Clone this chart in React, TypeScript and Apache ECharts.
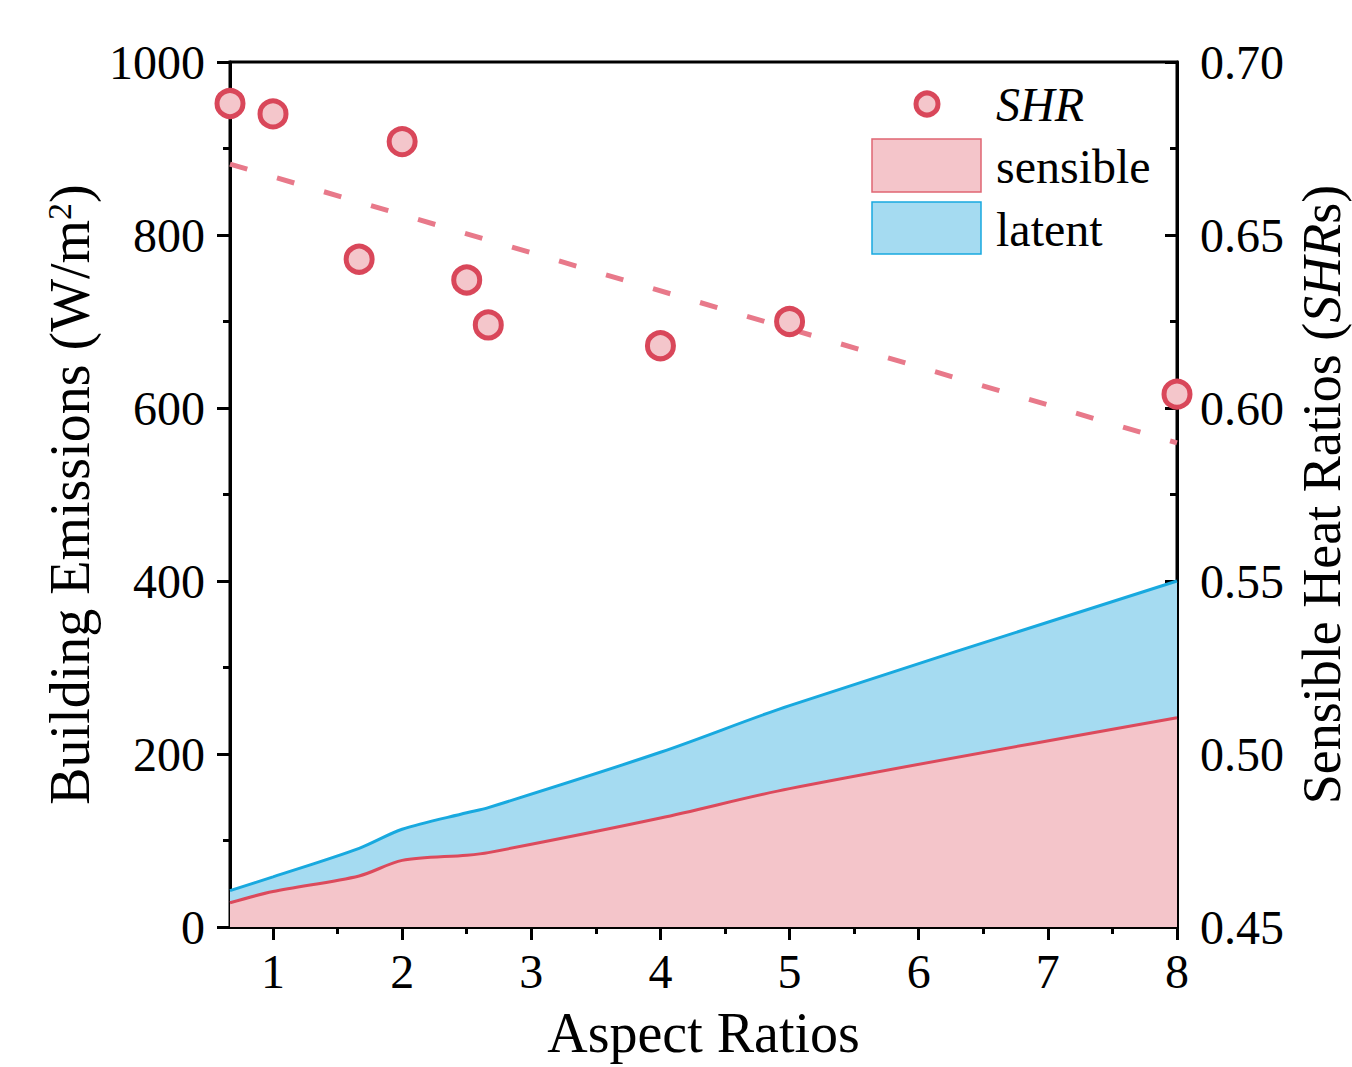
import React, { useEffect, useRef } from "react";
import * as echarts from "echarts";

// ---- data ----
const aspectRatios = [0.667, 1, 1.667, 2, 2.5, 2.667, 4, 5, 8];
const sensible = [28, 41, 59, 77, 83, 86, 126, 160, 242];
const latent = [14, 17, 32, 36, 49, 52, 76, 96, 158];
const shr = [0.688, 0.685, 0.643, 0.677, 0.637, 0.624, 0.618, 0.625, 0.604];
const fitX = [0.667, 8];
const fitShr = [0.6705, 0.5899];
const xMajorTicks = [1, 2, 3, 4, 5, 6, 7, 8];
const xMinorTicks = [1.5, 2.5, 3.5, 4.5, 5.5, 6.5, 7.5];
const rightMinorTicks = [0.475, 0.525, 0.575, 0.625, 0.675];

const FONT = "Liberation Serif";
const RED_LINE = "#dc4a5c";
const RED_FILL = "#f4c5ca";
const BLUE_LINE = "#18a9df";
const BLUE_FILL = "#a5dbf1";

export default function App() {
  const ref = useRef<HTMLDivElement>(null);

  useEffect(() => {
    if (!ref.current) return;
    const chart = echarts.init(ref.current, null, { renderer: "svg" });
    const pair = (xs: number[], ys: number[]) => xs.map((x, i) => [x, ys[i]]);
    const total = sensible.map((s, i) => s + latent[i]);
    const axisLine = { show: true, lineStyle: { color: "#000", width: 3 } };
    const labelStyle = { fontFamily: FONT, fontSize: 48, color: "#000" };
    const tickLine = { color: "#000", width: 3 };

    chart.setOption({
      animation: false,
      backgroundColor: "#fff",
      grid: {
        left: 230,
        right: 175,
        top: 62,
        bottom: 140,
        outerBoundsMode: "none",
        containLabel: false,
        show: true,
        borderColor: "#000",
        borderWidth: 3,
        backgroundColor: "transparent",
      },
      xAxis: [
        {
          type: "value",
          min: 0.667,
          max: 8,
          position: "bottom",
          name: "Aspect Ratios",
          nameLocation: "middle",
          nameGap: 78,
          nameTextStyle: { fontFamily: FONT, fontSize: 56, color: "#000" },
          axisLine,
          axisTick: { show: true, customValues: xMajorTicks, length: 13, lineStyle: tickLine },
          axisLabel: { ...labelStyle, customValues: xMajorTicks, margin: 20, formatter: (v: number) => String(v) },
          splitLine: { show: false },
        },
        {
          type: "value",
          min: 0.667,
          max: 8,
          position: "bottom",
          axisLine: { show: false },
          axisTick: { show: true, customValues: xMinorTicks, length: 7, lineStyle: tickLine },
          axisLabel: { show: false },
          splitLine: { show: false },
        },
      ],
      yAxis: [
        {
          type: "value",
          min: 0,
          max: 1000,
          interval: 200,
          position: "left",
          name: "Building Emissions (W/m{sup|2})",
          nameLocation: "middle",
          nameRotate: 90,
          nameGap: 122,
          nameTextStyle: {
            fontFamily: FONT,
            fontSize: 56,
            color: "#000",
            rich: {
              sup: { fontFamily: FONT, fontSize: 34, color: "#000", verticalAlign: "top", lineHeight: 30 },
            },
          },
          axisLine,
          axisTick: { show: true, length: 13, lineStyle: tickLine },
          minorTick: { show: true, splitNumber: 2, length: 7, lineStyle: tickLine },
          axisLabel: { ...labelStyle, margin: 25, formatter: (v: number) => String(v) },
          splitLine: { show: false },
          minorSplitLine: { show: false },
        },
        {
          type: "value",
          min: 0.45,
          max: 0.7,
          interval: 0.05,
          position: "right",
          name: "Sensible Heat Ratios ({i|SHR}s)",
          nameLocation: "middle",
          nameRotate: 90,
          nameGap: 104,
          nameTextStyle: {
            fontFamily: FONT,
            fontSize: 54,
            color: "#000",
            rich: {
              i: { fontFamily: FONT, fontSize: 54, fontStyle: "italic", color: "#000" },
            },
          },
          axisLine,
          axisTick: { show: true, inside: true, length: 12, lineStyle: tickLine },
          axisLabel: { ...labelStyle, margin: 23, formatter: (v: number) => v.toFixed(2) },
          splitLine: { show: false },
        },
        {
          type: "value",
          min: 0.45,
          max: 0.7,
          position: "right",
          axisLine: { show: false },
          axisTick: { show: true, inside: true, customValues: rightMinorTicks, length: 7, lineStyle: tickLine },
          axisLabel: { show: false },
          splitLine: { show: false },
        },
      ],
      series: [
        {
          name: "latent",
          type: "line",
          xAxisIndex: 0,
          yAxisIndex: 0,
          smooth: 0.3,
          showSymbol: false,
          data: pair(aspectRatios, total),
          lineStyle: { color: BLUE_LINE, width: 3 },
          areaStyle: { color: BLUE_FILL, opacity: 1 },
          z: 1,
        },
        {
          name: "sensible",
          type: "line",
          xAxisIndex: 0,
          yAxisIndex: 0,
          smooth: 0.3,
          showSymbol: false,
          data: pair(aspectRatios, sensible),
          lineStyle: { color: RED_LINE, width: 3 },
          areaStyle: { color: RED_FILL, opacity: 1 },
          z: 2,
        },
        {
          name: "fit",
          type: "line",
          xAxisIndex: 0,
          yAxisIndex: 1,
          showSymbol: false,
          data: pair(fitX, fitShr),
          lineStyle: { color: "#e8798a", width: 5, type: [18, 31] },
          z: 3,
        },
        {
          name: "SHR",
          type: "scatter",
          xAxisIndex: 0,
          yAxisIndex: 1,
          symbol: "circle",
          symbolSize: 26,
          clip: false,
          data: pair(aspectRatios, shr),
          itemStyle: { color: "#f4c6cb", borderColor: "#d9475a", borderWidth: 5, opacity: 1 },
          z: 4,
        },
      ],
      graphic: [
        {
          type: "circle",
          shape: { cx: 927, cy: 104, r: 11 },
          style: { fill: "#f4c6cb", stroke: "#d9475a", lineWidth: 5 },
          z: 10,
        },
        {
          type: "text",
          x: 996,
          y: 104,
          style: { text: "SHR", font: `italic 48px "${FONT}"`, fill: "#000", verticalAlign: "middle" },
          z: 10,
        },
        {
          type: "rect",
          shape: { x: 872, y: 139, width: 109, height: 53 },
          style: { fill: RED_FILL, stroke: "#e06673", lineWidth: 1.5 },
          z: 10,
        },
        {
          type: "text",
          x: 996,
          y: 166,
          style: { text: "sensible", font: `48px "${FONT}"`, fill: "#000", verticalAlign: "middle" },
          z: 10,
        },
        {
          type: "rect",
          shape: { x: 872, y: 202, width: 109, height: 52 },
          style: { fill: BLUE_FILL, stroke: BLUE_LINE, lineWidth: 1.5 },
          z: 10,
        },
        {
          type: "text",
          x: 996,
          y: 229,
          style: { text: "latent", font: `48px "${FONT}"`, fill: "#000", verticalAlign: "middle" },
          z: 10,
        },
      ],
    });

    return () => chart.dispose();
  }, []);

  return (
    <div
      ref={ref}
      style={{ position: "fixed", left: 0, top: 0, width: 1352, height: 1067, background: "#fff" }}
    />
  );
}
